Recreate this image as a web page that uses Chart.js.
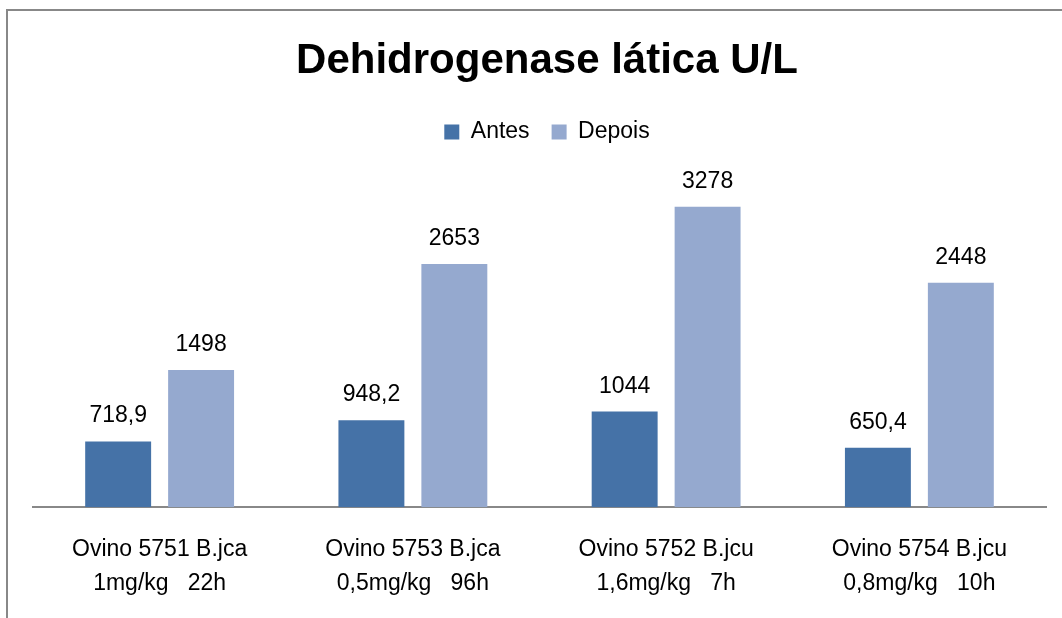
<!DOCTYPE html>
<html>
<head>
<meta charset="utf-8">
<script src="https://cdn.jsdelivr.net/npm/chart.js@4/dist/chart.umd.min.js"></script>
<style>
  html, body { margin: 0; padding: 0; background: #fff; overflow: hidden; }
  #frame {
    position: absolute; left: 6px; top: 9px;
    width: 1080px; height: 630px;
    border-left: 2px solid #888; border-top: 2px solid #888;
  }
  #wrap { position: relative; width: 1080px; height: 615px; }
</style>
</head>
<body>
<div id="frame"><div id="wrap"><canvas id="ldhChart"></canvas></div></div>
<script>
const titleText = 'Dehidrogenase lática U/L';
const categories = [
  ['Ovino 5751 B.jca', '1mg/kg   22h'],
  ['Ovino 5753 B.jca', '0,5mg/kg   96h'],
  ['Ovino 5752 B.jcu', '1,6mg/kg   7h'],
  ['Ovino 5754 B.jcu', '0,8mg/kg   10h']
];
const antes = [718.9, 948.2, 1044, 650.4];
const depois = [1498, 2653, 3278, 2448];

const fontFamily = '"Liberation Sans", Arial, sans-serif';

function formatValue(value) {
  return String(value).replace('.', ',');
}

// data labels above each bar
const barLabels = {
  id: 'barLabels',
  afterDatasetsDraw(chart) {
    const ctx = chart.ctx;
    ctx.save();
    ctx.font = '23px ' + fontFamily;
    ctx.fillStyle = '#000';
    ctx.textAlign = 'center';
    ctx.textBaseline = 'alphabetic';
    chart.data.datasets.forEach((ds, i) => {
      chart.getDatasetMeta(i).data.forEach((bar, j) => {
        ctx.fillText(formatValue(ds.data[j]), bar.x, bar.y - 19);
      });
    });
    ctx.restore();
  }
};

new Chart(document.getElementById('ldhChart'), {
  type: 'bar',
  data: {
    labels: categories,
    datasets: [
      { label: 'Antes', data: antes, backgroundColor: '#4572A7' },
      { label: 'Depois', data: depois, backgroundColor: '#95A9CF' }
    ]
  },
  options: {
    responsive: true,
    maintainAspectRatio: false,
    animation: false,
    categoryPercentage: 0.655,
    barPercentage: 0.795,
    layout: { padding: { left: 25, right: 27, top: 0, bottom: 0 } },
    plugins: {
      title: {
        display: true,
        text: titleText,
        color: '#000',
        font: { family: fontFamily, size: 42, weight: 'bold', lineHeight: 1.2 },
        padding: { top: 25, bottom: 12 }
      },
      legend: {
        display: true,
        labels: {
          color: '#000',
          font: { family: fontFamily, size: 23 },
          boxWidth: 15,
          boxHeight: 15,
          padding: 22
        }
      },
      tooltip: { enabled: false }
    },
    scales: {
      x: {
        grid: { display: false, drawTicks: false },
        border: { display: true, color: '#888', width: 2 },
        ticks: {
          color: '#000',
          font: { family: fontFamily, size: 23, lineHeight: 1.45 },
          padding: 26,
          maxRotation: 0,
          autoSkip: false
        }
      },
      y: {
        display: true,
        position: 'right',
        min: 0,
        max: 3860,
        grid: { display: false, drawTicks: false },
        border: { display: false },
        ticks: { display: false },
        afterFit(scale) { scale.width = 15; }
      }
    }
  },
  plugins: [barLabels]
});
</script>
</body>
</html>
